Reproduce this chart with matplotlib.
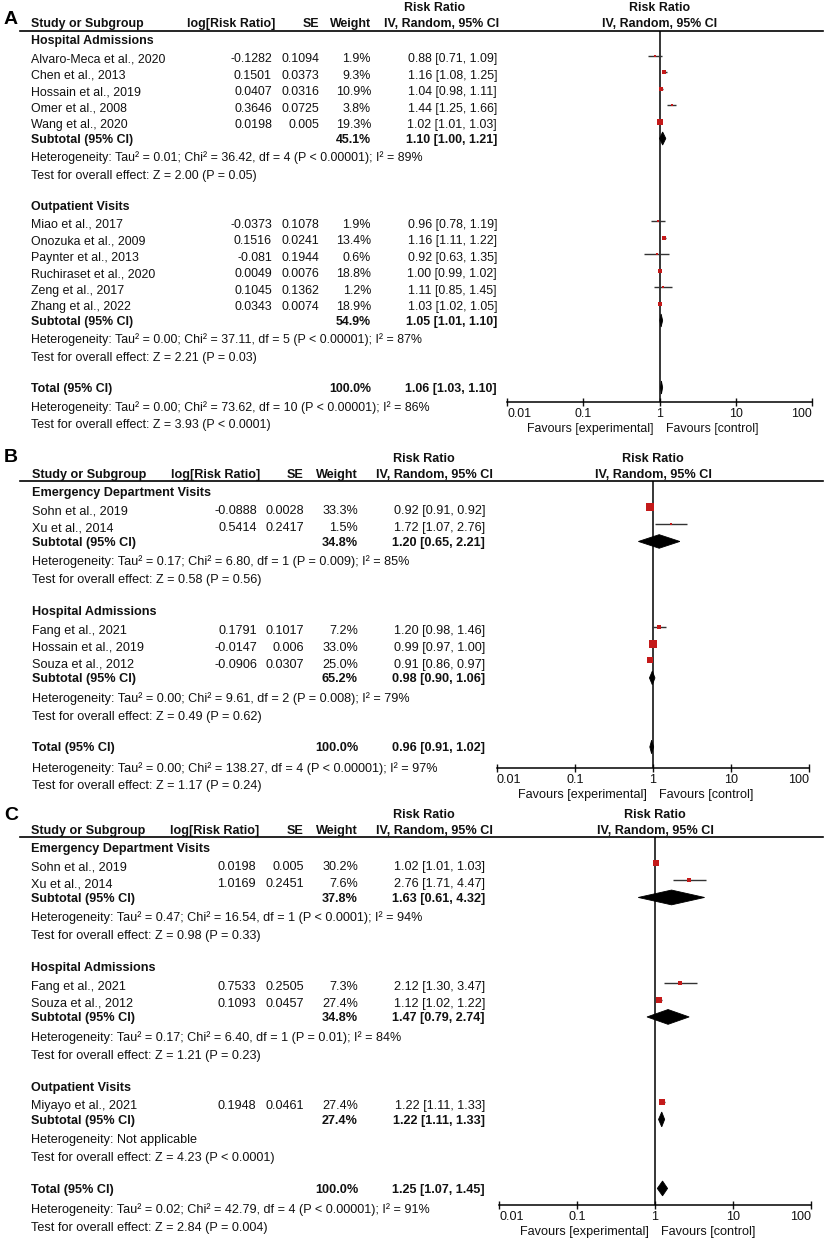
import matplotlib
matplotlib.use("Agg")
import matplotlib.pyplot as plt
from matplotlib.patches import Polygon
import numpy as np

plt.rcParams['font.family'] = ['Liberation Sans', 'DejaVu Sans']

W, H = 826, 1240
RED = '#c41a1a'

axis_ticks = [0.01, 0.1, 1, 10, 100]
axis_labels = ['0.01', '0.1', '1', '10', '100']

# ----- Panel A -----
a_groups = ["Hospital Admissions", "Outpatient Visits"]
a_study = ["Alvaro-Meca et al., 2020", "Chen et al., 2013", "Hossain et al., 2019",
           "Omer et al., 2008", "Wang et al., 2020",
           "Miao et al., 2017", "Onozuka et al., 2009", "Paynter et al., 2013",
           "Ruchiraset et al., 2020", "Zeng et al., 2017", "Zhang et al., 2022"]
a_grp = [0, 0, 0, 0, 0, 1, 1, 1, 1, 1, 1]
a_logrr = [-0.1282, 0.1501, 0.0407, 0.3646, 0.0198, -0.0373, 0.1516, -0.081, 0.0049, 0.1045, 0.0343]
a_se = [0.1094, 0.0373, 0.0316, 0.0725, 0.005, 0.1078, 0.0241, 0.1944, 0.0076, 0.1362, 0.0074]
a_weight = [1.9, 9.3, 10.9, 3.8, 19.3, 1.9, 13.4, 0.6, 18.8, 1.2, 18.9]
a_rr = [0.88, 1.16, 1.04, 1.44, 1.02, 0.96, 1.16, 0.92, 1.00, 1.11, 1.03]
a_lo = [0.71, 1.08, 0.98, 1.25, 1.01, 0.78, 1.11, 0.63, 0.99, 0.85, 1.02]
a_hi = [1.09, 1.25, 1.11, 1.66, 1.03, 1.19, 1.22, 1.35, 1.02, 1.45, 1.05]
a_sub_weight = [45.1, 54.9]
a_sub_rr = [1.10, 1.05]
a_sub_lo = [1.00, 1.01]
a_sub_hi = [1.21, 1.10]
a_het = ["Tau² = 0.01; Chi² = 36.42, df = 4 (P < 0.00001); I² = 89%",
         "Tau² = 0.00; Chi² = 37.11, df = 5 (P < 0.00001); I² = 87%"]
a_test = ["Z = 2.00 (P = 0.05)", "Z = 2.21 (P = 0.03)"]
a_total = [100.0, 1.06, 1.03, 1.10]
a_total_het = "Tau² = 0.00; Chi² = 73.62, df = 10 (P < 0.00001); I² = 86%"
a_total_test = "Z = 3.93 (P < 0.0001)"

# ----- Panel B -----
b_groups = ["Emergency Department Visits", "Hospital Admissions"]
b_study = ["Sohn et al., 2019", "Xu et al., 2014",
           "Fang et al., 2021", "Hossain et al., 2019", "Souza et al., 2012"]
b_grp = [0, 0, 1, 1, 1]
b_logrr = [-0.0888, 0.5414, 0.1791, -0.0147, -0.0906]
b_se = [0.0028, 0.2417, 0.1017, 0.006, 0.0307]
b_weight = [33.3, 1.5, 7.2, 33.0, 25.0]
b_rr = [0.92, 1.72, 1.20, 0.99, 0.91]
b_lo = [0.91, 1.07, 0.98, 0.97, 0.86]
b_hi = [0.92, 2.76, 1.46, 1.00, 0.97]
b_sub_weight = [34.8, 65.2]
b_sub_rr = [1.20, 0.98]
b_sub_lo = [0.65, 0.90]
b_sub_hi = [2.21, 1.06]
b_het = ["Tau² = 0.17; Chi² = 6.80, df = 1 (P = 0.009); I² = 85%",
         "Tau² = 0.00; Chi² = 9.61, df = 2 (P = 0.008); I² = 79%"]
b_test = ["Z = 0.58 (P = 0.56)", "Z = 0.49 (P = 0.62)"]
b_total = [100.0, 0.96, 0.91, 1.02]
b_total_het = "Tau² = 0.00; Chi² = 138.27, df = 4 (P < 0.00001); I² = 97%"
b_total_test = "Z = 1.17 (P = 0.24)"

# ----- Panel C -----
c_groups = ["Emergency Department Visits", "Hospital Admissions", "Outpatient Visits"]
c_study = ["Sohn et al., 2019", "Xu et al., 2014",
           "Fang et al., 2021", "Souza et al., 2012",
           "Miyayo et al., 2021"]
c_grp = [0, 0, 1, 1, 2]
c_logrr = [0.0198, 1.0169, 0.7533, 0.1093, 0.1948]
c_se = [0.005, 0.2451, 0.2505, 0.0457, 0.0461]
c_weight = [30.2, 7.6, 7.3, 27.4, 27.4]
c_rr = [1.02, 2.76, 2.12, 1.12, 1.22]
c_lo = [1.01, 1.71, 1.30, 1.02, 1.11]
c_hi = [1.03, 4.47, 3.47, 1.22, 1.33]
c_sub_weight = [37.8, 34.8, 27.4]
c_sub_rr = [1.63, 1.47, 1.22]
c_sub_lo = [0.61, 0.79, 1.11]
c_sub_hi = [4.32, 2.74, 1.33]
c_het = ["Tau² = 0.47; Chi² = 16.54, df = 1 (P < 0.0001); I² = 94%",
         "Tau² = 0.17; Chi² = 6.40, df = 1 (P = 0.01); I² = 84%",
         "Not applicable"]
c_test = ["Z = 0.98 (P = 0.33)", "Z = 1.21 (P = 0.23)", "Z = 4.23 (P < 0.0001)"]
c_total = [100.0, 1.25, 1.07, 1.45]
c_total_het = "Tau² = 0.02; Chi² = 42.79, df = 4 (P < 0.00001); I² = 91%"
c_total_test = "Z = 2.84 (P = 0.004)"

# layout of each panel, in pixels of the final image
lay_a = dict(label='A', label_y=20, top=7, k=1.0, fs=8.9, x_study=31, x_log=272,
             x_se=319, x_w=371, x_rr=497, rr_h1=435, rr_h2=442,
             fx0=507, fx1=812, axis_gap=14.5, sq=1.15, dh=6.5)
lay_b = dict(label='B', label_y=458, top=457, k=1.03, fs=9.1, x_study=32, x_log=257,
             x_se=304, x_w=358, x_rr=485, rr_h1=424, rr_h2=434,
             fx0=497, fx1=809, axis_gap=21, sq=1.39, dh=6.8)
lay_c = dict(label='C', label_y=815, top=813, k=1.03, fs=9.1, x_study=31, x_log=256,
             x_se=304, x_w=358, x_rr=485, rr_h1=424, rr_h2=434,
             fx0=499, fx1=811, axis_gap=16.5, sq=1.22, dh=7.4)

fig = plt.figure(figsize=(W / 100, H / 100), dpi=100)
tx = fig.add_axes([0, 0, 1, 1])
tx.set_xlim(0, W)
tx.set_ylim(H, 0)
tx.axis('off')


def rr_text(r, l, h):
    return f"{r:.2f} [{l:.2f}, {h:.2f}]"


def draw_panel(lay, groups, study, grp, logrr, se, weight, rr, lo, hi,
               sub_w, sub_rr, sub_lo, sub_hi, het, test, total, total_het, total_test):
    fs, k = lay['fs'], lay['k']
    base = 0.5 * fs  # from text centre to baseline, px

    def put(x, y, s, ha='left', bold=False):
        tx.text(x, y + base, s, ha=ha, va='baseline', fontsize=fs, color='#111111',
                fontweight='bold' if bold else 'normal')

    top = lay['top']
    head_y = top + 16 * k
    line_y = top + 23.5 * k

    tx.text(4, lay['label_y'], lay['label'], fontsize=14, fontweight='bold', va='center')
    put(lay['rr_h1'], top, 'Risk Ratio', ha='center', bold=True)
    put(lay['x_study'], head_y, 'Study or Subgroup', bold=True)
    put(lay['x_log'] + 3, head_y, 'log[Risk Ratio]', ha='right', bold=True)
    put(lay['x_se'], head_y, 'SE', ha='right', bold=True)
    put(lay['x_w'], head_y, 'Weight', ha='right', bold=True)
    put(lay['rr_h2'], head_y, 'IV, Random, 95% CI', ha='center', bold=True)
    tx.plot([20, 823], [line_y, line_y], color='black', lw=1.2)

    # row positions
    y_study = [0.0] * len(study)
    y_sub = []
    cur = line_y + 9.5 * k
    for g, gname in enumerate(groups):
        put(lay['x_study'], cur, gname, bold=True)
        cur += 18 * k
        for i in range(len(study)):
            if grp[i] == g:
                y_study[i] = cur
                cur += 16.5 * k
        ys = cur - 2 * k
        y_sub.append(ys)
        put(lay['x_study'], ys, 'Subtotal (95% CI)', bold=True)
        put(lay['x_w'], ys, f"{sub_w[g]:.1f}%", ha='right', bold=True)
        put(lay['x_rr'], ys, rr_text(sub_rr[g], sub_lo[g], sub_hi[g]), ha='right', bold=True)
        yh = ys + 18.5 * k
        put(lay['x_study'], yh, 'Heterogeneity: ' + het[g])
        yt = yh + 17.5 * k
        put(lay['x_study'], yt, 'Test for overall effect: ' + test[g])
        cur = yt + 31 * k

    y_tot = cur
    put(lay['x_study'], y_tot, 'Total (95% CI)', bold=True)
    put(lay['x_w'], y_tot, f"{total[0]:.1f}%", ha='right', bold=True)
    put(lay['x_rr'], y_tot, rr_text(total[1], total[2], total[3]), ha='right', bold=True)
    put(lay['x_study'], y_tot + 19.5 * k, 'Heterogeneity: ' + total_het)
    put(lay['x_study'], y_tot + 36.5 * k, 'Test for overall effect: ' + total_test)

    for i, name in enumerate(study):
        y = y_study[i]
        put(lay['x_study'], y, name)
        put(lay['x_log'], y, str(logrr[i]), ha='right')
        put(lay['x_se'], y, str(se[i]), ha='right')
        put(lay['x_w'], y, f"{weight[i]:.1f}%", ha='right')
        put(lay['x_rr'], y, rr_text(rr[i], lo[i], hi[i]), ha='right')

    # forest plot axes, y in image pixels
    axis_y = y_tot + lay['axis_gap']
    fx0, fx1 = lay['fx0'], lay['fx1']
    ax = fig.add_axes([fx0 / W, 1 - axis_y / H, (fx1 - fx0) / W, (axis_y - line_y) / H])
    ax.set_xscale('log')
    ax.set_xlim(0.01, 100)
    ax.set_ylim(axis_y, line_y)
    ax.patch.set_visible(False)
    for s in ['top', 'left', 'right']:
        ax.spines[s].set_visible(False)
    ax.spines['bottom'].set_linewidth(1.1)
    ax.set_yticks([])
    ax.set_xticks(axis_ticks, axis_labels)
    ax.xaxis.set_minor_locator(plt.NullLocator())
    ax.tick_params(axis='x', direction='inout', length=5.5, width=1, pad=1.5,
                   labelsize=fs, colors='#111111')
    lbls = ax.get_xticklabels()
    lbls[0].set_ha('left')
    lbls[-1].set_ha('right')
    ax.axvline(1, color='black', lw=1.1)

    ax.text(1, top + base, 'Risk Ratio', ha='center', va='baseline', fontsize=fs,
            fontweight='bold', color='#111111')
    ax.text(1, head_y + base, 'IV, Random, 95% CI', ha='center', va='baseline',
            fontsize=fs, fontweight='bold', color='#111111')
    fav_y = -(26 + base) * 0.72
    ax.annotate('Favours [experimental]', xy=(1, axis_y), xytext=(-4.5, fav_y),
                textcoords='offset points', ha='right', va='baseline', fontsize=fs,
                color='#111111', annotation_clip=False)
    ax.annotate('Favours [control]', xy=(1, axis_y), xytext=(4.5, fav_y),
                textcoords='offset points', ha='left', va='baseline', fontsize=fs,
                color='#111111', annotation_clip=False)

    for i in range(len(study)):
        y = y_study[i] - 2.5
        ax.plot([lo[i], hi[i]], [y, y], color='#333333', lw=1.0, solid_capstyle='butt',
                clip_on=False)
        side = max(2.5, lay['sq'] * np.sqrt(weight[i]))
        ax.plot(rr[i], y, marker='s', ms=side * 0.72, color=RED, mec=RED, mew=0,
                clip_on=False)

    dh = lay['dh']
    diamonds = [(y_sub[g], sub_rr[g], sub_lo[g], sub_hi[g]) for g in range(len(groups))]
    diamonds.append((y_tot, total[1], total[2], total[3]))
    for y, r, l, h in diamonds:
        ax.add_patch(Polygon([(l, y), (r, y - dh), (h, y), (r, y + dh)], closed=True,
                             facecolor='black', edgecolor='black', lw=0.6, clip_on=False))


draw_panel(lay_a, a_groups, a_study, a_grp, a_logrr, a_se, a_weight, a_rr, a_lo, a_hi,
           a_sub_weight, a_sub_rr, a_sub_lo, a_sub_hi, a_het, a_test,
           a_total, a_total_het, a_total_test)
draw_panel(lay_b, b_groups, b_study, b_grp, b_logrr, b_se, b_weight, b_rr, b_lo, b_hi,
           b_sub_weight, b_sub_rr, b_sub_lo, b_sub_hi, b_het, b_test,
           b_total, b_total_het, b_total_test)
draw_panel(lay_c, c_groups, c_study, c_grp, c_logrr, c_se, c_weight, c_rr, c_lo, c_hi,
           c_sub_weight, c_sub_rr, c_sub_lo, c_sub_hi, c_het, c_test,
           c_total, c_total_het, c_total_test)

fig.savefig('out.png', dpi=100, facecolor='white')
